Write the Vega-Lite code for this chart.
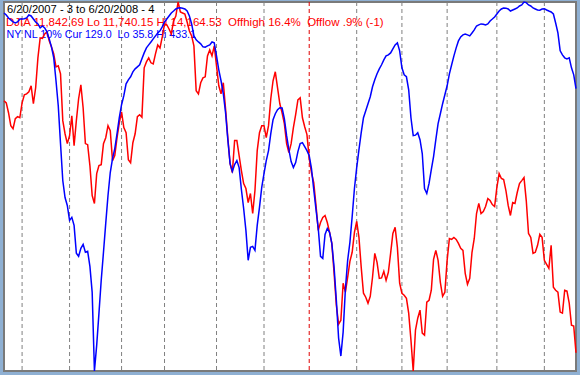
{
  "$schema": "https://vega.github.io/schema/vega-lite/v6.json",
  "width": 572,
  "height": 369,
  "autosize": {"type": "none"},
  "padding": {"left": 4, "top": 2, "right": 4, "bottom": 4},
  "background": "#8fb0d3",
  "view": {"fill": "#ffffff", "stroke": "#7a7a7a", "strokeWidth": 2},
  "datasets": {
    "grid": [
      {"d": 8, "yr": false}, {"d": 29, "yr": false}, {"d": 52, "yr": false}, {"d": 71, "yr": false},
      {"d": 94, "yr": false}, {"d": 115, "yr": false}, {"d": 135, "yr": true}, {"d": 156, "yr": false},
      {"d": 176, "yr": false}, {"d": 196, "yr": false}, {"d": 218, "yr": false}, {"d": 239, "yr": false}
    ],
    "series": [
      {"d":0,"dj":13516,"nl":47.6},{"d":1,"dj":13502,"nl":49.8},{"d":2,"dj":13437,"nl":53.0},{"d":3,"dj":13352,"nl":55.1},
      {"d":4,"dj":13332,"nl":57.3},{"d":5,"dj":13398,"nl":58.4},{"d":6,"dj":13411,"nl":57.3},{"d":7,"dj":13404,"nl":54.1},
      {"d":8,"dj":13502,"nl":54.1},{"d":9,"dj":13555,"nl":53.8},{"d":10,"dj":13561,"nl":53.0},{"d":11,"dj":13575,"nl":49.8},
      {"d":12,"dj":13614,"nl":50.8},{"d":13,"dj":13496,"nl":54.1},{"d":14,"dj":13601,"nl":57.3},{"d":15,"dj":13797,"nl":59.4},
      {"d":16,"dj":13928,"nl":63.7},{"d":17,"dj":13925,"nl":61.6},{"d":18,"dj":13955,"nl":63.7},{"d":19,"dj":13968,"nl":68.0},
      {"d":20,"dj":13909,"nl":75.5},{"d":21,"dj":13869,"nl":84.1},{"d":22,"dj":13824,"nl":95.9},{"d":23,"dj":13738,"nl":120.6},
      {"d":24,"dj":13745,"nl":147.5},{"d":25,"dj":13692,"nl":188.3},{"d":26,"dj":13385,"nl":228.0},{"d":27,"dj":13299,"nl":246.3},
      {"d":28,"dj":13234,"nl":254.9},{"d":29,"dj":13286,"nl":271.0},{"d":30,"dj":13417,"nl":267.7},{"d":31,"dj":13221,"nl":276.3},
      {"d":32,"dj":13385,"nl":306.4},{"d":33,"dj":13529,"nl":309.6},{"d":34,"dj":13620,"nl":301.0},{"d":35,"dj":13470,"nl":296.7},
      {"d":36,"dj":13234,"nl":305.3},{"d":37,"dj":13227,"nl":304.2},{"d":38,"dj":13090,"nl":320.4},{"d":39,"dj":12893,"nl":348.3},
      {"d":40,"dj":12841,"nl":433.1},{"d":41,"dj":13037,"nl":405.2},{"d":42,"dj":13090,"nl":370.8},{"d":43,"dj":13096,"nl":335.4},
      {"d":44,"dj":13234,"nl":305.3},{"d":45,"dj":13273,"nl":274.2},{"d":46,"dj":13352,"nl":244.1},{"d":47,"dj":13319,"nl":219.4},
      {"d":48,"dj":13122,"nl":204.4},{"d":49,"dj":13155,"nl":193.6},{"d":50,"dj":13273,"nl":177.5},{"d":51,"dj":13371,"nl":160.4},
      {"d":52,"dj":13443,"nl":146.4},{"d":53,"dj":13339,"nl":136.7},{"d":54,"dj":13306,"nl":123.9},{"d":55,"dj":13129,"nl":119.6},
      {"d":56,"dj":13109,"nl":116.3},{"d":57,"dj":13240,"nl":111.0},{"d":58,"dj":13299,"nl":107.8},{"d":59,"dj":13411,"nl":105.6},
      {"d":60,"dj":13424,"nl":103.4},{"d":61,"dj":13408,"nl":97.0},{"d":62,"dj":13732,"nl":90.6},{"d":63,"dj":13771,"nl":85.2},
      {"d":64,"dj":13797,"nl":82.0},{"d":65,"dj":13765,"nl":78.8},{"d":66,"dj":13758,"nl":75.5},{"d":67,"dj":13824,"nl":72.3},
      {"d":68,"dj":13882,"nl":69.1},{"d":69,"dj":13863,"nl":66.9},{"d":70,"dj":13935,"nl":62.6},{"d":71,"dj":14020,"nl":57.3},
      {"d":72,"dj":14015,"nl":54.1},{"d":73,"dj":13987,"nl":50.8},{"d":74,"dj":13955,"nl":47.6},{"d":75,"dj":14040,"nl":45.5},
      {"d":76,"dj":14072,"nl":43.3},{"d":77,"dj":14164.53,"nl":42.2},{"d":78,"dj":14099,"nl":42.0},{"d":79,"dj":14092,"nl":42.5},
      {"d":80,"dj":14086,"nl":43.3},{"d":81,"dj":14033,"nl":45.5},{"d":82,"dj":13974,"nl":50.8},{"d":83,"dj":13942,"nl":59.4},
      {"d":84,"dj":13876,"nl":72.3},{"d":85,"dj":13581,"nl":76.6},{"d":86,"dj":13561,"nl":78.8},{"d":87,"dj":13634,"nl":80.9},
      {"d":88,"dj":13666,"nl":84.1},{"d":89,"dj":13673,"nl":84.4},{"d":90,"dj":13810,"nl":83.1},{"d":91,"dj":13850,"nl":82.0},
      {"d":92,"dj":13810,"nl":78.8},{"d":93,"dj":13876,"nl":79.8},{"d":94,"dj":13745,"nl":93.8},{"d":95,"dj":13614,"nl":108.8},
      {"d":96,"dj":13561,"nl":120.6},{"d":97,"dj":13634,"nl":134.6},{"d":98,"dj":13463,"nl":155.0},{"d":99,"dj":13273,"nl":184.0},
      {"d":100,"dj":13103,"nl":209.8},{"d":101,"dj":13044,"nl":218.3},{"d":102,"dj":13254,"nl":210.8},{"d":103,"dj":13254,"nl":206.5},
      {"d":104,"dj":13155,"nl":214.1},{"d":105,"dj":13057,"nl":237.7},{"d":106,"dj":12972,"nl":258.1},{"d":107,"dj":12939,"nl":281.7},
      {"d":108,"dj":12847,"nl":313.9},{"d":109,"dj":12906,"nl":300.0},{"d":110,"dj":12775,"nl":298.9},{"d":111,"dj":12926,"nl":303.2},
      {"d":112,"dj":13188,"nl":276.3},{"d":113,"dj":13306,"nl":257.0},{"d":114,"dj":13352,"nl":235.5},{"d":115,"dj":13352,"nl":220.5},
      {"d":116,"dj":13273,"nl":206.5},{"d":117,"dj":13352,"nl":195.8},{"d":118,"dj":13529,"nl":177.5},{"d":119,"dj":13647,"nl":162.5},
      {"d":120,"dj":13706,"nl":156.1},{"d":121,"dj":13601,"nl":151.8},{"d":122,"dj":13496,"nl":149.6},{"d":123,"dj":13437,"nl":149.9},
      {"d":124,"dj":13365,"nl":161.4},{"d":125,"dj":13234,"nl":179.7},{"d":126,"dj":13175,"nl":194.7},{"d":127,"dj":13234,"nl":207.6},
      {"d":128,"dj":13339,"nl":214.1},{"d":129,"dj":13424,"nl":208.7},{"d":130,"dj":13522,"nl":196.9},{"d":131,"dj":13535,"nl":188.3},
      {"d":132,"dj":13404,"nl":187.2},{"d":133,"dj":13345,"nl":191.5},{"d":134,"dj":13293,"nl":195.8},{"d":135,"dj":13136,"nl":201.2},
      {"d":136,"dj":13044,"nl":215.1},{"d":137,"dj":12978,"nl":237.7},{"d":138,"dj":12828,"nl":259.2},{"d":139,"dj":12664,"nl":279.6},
      {"d":140,"dj":12716,"nl":309.6},{"d":141,"dj":12749,"nl":311.8},{"d":142,"dj":12762,"nl":286.0},{"d":143,"dj":12716,"nl":279.6},
      {"d":144,"dj":12651,"nl":283.8},{"d":145,"dj":12579,"nl":295.7},{"d":146,"dj":12382,"nl":321.4},{"d":147,"dj":12172,"nl":356.9},
      {"d":148,"dj":12048,"nl":397.7},{"d":149,"dj":12074,"nl":417.0},{"d":150,"dj":12317,"nl":391.2},{"d":151,"dj":12258,"nl":345.1},
      {"d":152,"dj":12356,"nl":313.9},{"d":153,"dj":12461,"nl":294.6},{"d":154,"dj":12520,"nl":266.7},{"d":155,"dj":12651,"nl":236.6},
      {"d":156,"dj":12723,"nl":214.1},{"d":157,"dj":12618,"nl":194.7},{"d":158,"dj":12421,"nl":176.5},{"d":159,"dj":12251,"nl":160.4},
      {"d":160,"dj":12225,"nl":152.8},{"d":161,"dj":12186,"nl":145.3},{"d":162,"dj":12231,"nl":137.8},{"d":163,"dj":12356,"nl":127.1},
      {"d":164,"dj":12513,"nl":119.6},{"d":165,"dj":12454,"nl":113.1},{"d":166,"dj":12349,"nl":107.8},{"d":167,"dj":12352,"nl":103.4},
      {"d":168,"dj":12395,"nl":98.1},{"d":169,"dj":12336,"nl":93.8},{"d":170,"dj":12389,"nl":92.7},{"d":171,"dj":12513,"nl":90.6},
      {"d":172,"dj":12644,"nl":86.3},{"d":173,"dj":12684,"nl":82.0},{"d":174,"dj":12552,"nl":79.8},{"d":175,"dj":12317,"nl":88.4},
      {"d":176,"dj":12251,"nl":106.7},{"d":177,"dj":12238,"nl":114.2},{"d":178,"dj":12218,"nl":116.3},{"d":179,"dj":12120,"nl":130.3},
      {"d":180,"dj":11943,"nl":160.4},{"d":181,"dj":11740.15,"nl":179.7},{"d":182,"dj":12009,"nl":179.2},{"d":183,"dj":12087,"nl":176.5},
      {"d":184,"dj":12140,"nl":184.0},{"d":185,"dj":11989,"nl":199.0},{"d":186,"dj":11976,"nl":236.6},{"d":187,"dj":12192,"nl":242.0},
      {"d":188,"dj":12205,"nl":231.2},{"d":189,"dj":12271,"nl":216.2},{"d":190,"dj":12474,"nl":202.2},{"d":191,"dj":12533,"nl":184.0},
      {"d":192,"dj":12467,"nl":166.8},{"d":193,"dj":12323,"nl":156.1},{"d":194,"dj":12231,"nl":145.3},{"d":195,"dj":12258,"nl":135.7},
      {"d":196,"dj":12467,"nl":126.0},{"d":197,"dj":12611,"nl":113.1},{"d":198,"dj":12605,"nl":103.4},{"d":199,"dj":12618,"nl":93.8},
      {"d":200,"dj":12605,"nl":85.2},{"d":201,"dj":12579,"nl":77.7},{"d":202,"dj":12546,"nl":73.4},{"d":203,"dj":12533,"nl":71.2},
      {"d":204,"dj":12382,"nl":70.2},{"d":205,"dj":12310,"nl":71.2},{"d":206,"dj":12349,"nl":72.3},{"d":207,"dj":12520,"nl":69.1},
      {"d":208,"dj":12611,"nl":65.9},{"d":209,"dj":12775,"nl":61.6},{"d":210,"dj":12841,"nl":60.5},{"d":211,"dj":12775,"nl":59.4},
      {"d":212,"dj":12788,"nl":59.7},{"d":213,"dj":12821,"nl":60.5},{"d":214,"dj":12873,"nl":59.4},{"d":215,"dj":12860,"nl":56.2},
      {"d":216,"dj":12834,"nl":54.1},{"d":217,"dj":12821,"nl":51.9},{"d":218,"dj":12946,"nl":48.7},{"d":219,"dj":13037,"nl":45.5},
      {"d":220,"dj":13005,"nl":43.3},{"d":221,"dj":12998,"nl":42.2},{"d":222,"dj":12926,"nl":42.4},{"d":223,"dj":12828,"nl":43.3},
      {"d":224,"dj":12762,"nl":45.5},{"d":225,"dj":12847,"nl":44.4},{"d":226,"dj":12841,"nl":43.3},{"d":227,"dj":12913,"nl":42.2},
      {"d":228,"dj":12972,"nl":40.1},{"d":229,"dj":12991,"nl":39.0},{"d":230,"dj":13011,"nl":35.8},{"d":231,"dj":12860,"nl":36.5},
      {"d":232,"dj":12644,"nl":39.0},{"d":233,"dj":12618,"nl":40.1},{"d":234,"dj":12513,"nl":42.2},{"d":235,"dj":12520,"nl":43.3},
      {"d":236,"dj":12566,"nl":44.4},{"d":237,"dj":12638,"nl":44.6},{"d":238,"dj":12618,"nl":43.3},{"d":239,"dj":12467,"nl":43.0},
      {"d":240,"dj":12441,"nl":44.4},{"d":241,"dj":12415,"nl":45.5},{"d":242,"dj":12566,"nl":46.5},{"d":243,"dj":12290,"nl":48.7},
      {"d":244,"dj":12271,"nl":58.4},{"d":245,"dj":12258,"nl":69.1},{"d":246,"dj":12127,"nl":88.4},{"d":247,"dj":12120,"nl":92.7},
      {"d":248,"dj":12271,"nl":95.9},{"d":249,"dj":12265,"nl":97.0},{"d":250,"dj":12186,"nl":95.9},{"d":251,"dj":12041,"nl":106.7},
      {"d":252,"dj":12035,"nl":114.2},{"d":253,"dj":11860,"nl":129.0}
    ]
  },
  "layer": [
    {
      "data": {"name": "grid"},
      "mark": {"type": "rule", "strokeWidth": 1, "strokeDash": [4, 3]},
      "encoding": {
        "x": {"field": "d", "type": "quantitative", "scale": {"domain": [0, 253], "nice": false, "zero": false}, "axis": null},
        "color": {"condition": {"test": "datum.yr", "value": "#e00000"}, "value": "#808080"}
      }
    },
    {
      "data": {"values": [{}]},
      "mark": {"type": "text", "text": "6/20/2007 - 3 to 6/20/2008 - 4", "x": 3, "y": 10.7, "align": "left", "baseline": "alphabetic", "font": "Liberation Sans", "fontSize": 11.2, "color": "#000000"}
    },
    {
      "data": {"values": [{}]},
      "mark": {"type": "text", "text": "DJIA 11,842.69 Lo 11,740.15 Hi 14,164.53\u00a0 Offhigh 16.4%\u00a0 Offlow .9% (-1)", "x": 2, "y": 24, "align": "left", "baseline": "alphabetic", "font": "Liberation Sans", "fontSize": 11.5, "color": "#ff0000"}
    },
    {
      "data": {"values": [{}]},
      "mark": {"type": "text", "text": "NY NL 10% Cur 129.0\u00a0 Lo 35.8 Hi 433.1", "x": 2.5, "y": 36.3, "align": "left", "baseline": "alphabetic", "font": "Liberation Sans", "fontSize": 10.7, "color": "#0000ff"}
    },
    {
      "data": {"name": "series"},
      "mark": {"type": "line", "color": "#ff0000", "strokeWidth": 1.5, "interpolate": "linear"},
      "encoding": {
        "x": {"field": "d", "type": "quantitative", "scale": {"domain": [0, 253], "nice": false, "zero": false}, "axis": null},
        "y": {"field": "dj", "type": "quantitative", "scale": {"domain": [11740.15, 14164.53], "nice": false, "zero": false}, "axis": null}
      }
    },
    {
      "data": {"name": "series"},
      "mark": {"type": "line", "color": "#0000ff", "strokeWidth": 1.5, "interpolate": "linear"},
      "encoding": {
        "x": {"field": "d", "type": "quantitative", "scale": {"domain": [0, 253], "nice": false, "zero": false}, "axis": null},
        "y": {"field": "nl", "type": "quantitative", "scale": {"domain": [35.8, 433.1], "reverse": true, "nice": false, "zero": false}, "axis": null}
      }
    }
  ],
  "resolve": {"scale": {"y": "independent"}}
}
